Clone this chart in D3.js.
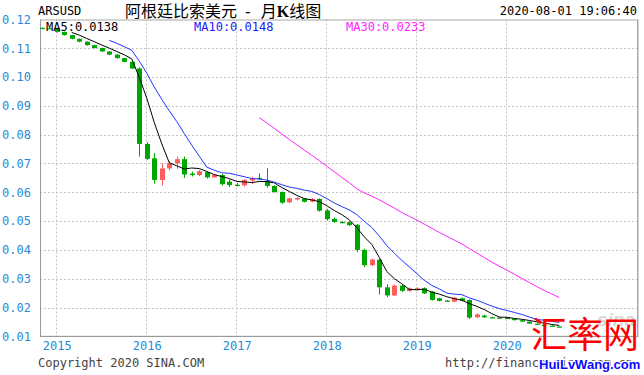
<!DOCTYPE html>
<html><head><meta charset="utf-8">
<script src="https://cdn.jsdelivr.net/npm/d3@7"></script>
<style>body{margin:0;background:#fff}svg{display:block}</style>
</head><body>
<svg id="c" width="644" height="375"></svg>
<script>
// ---- data (ARSUSD monthly K) ----
const months = ["2014-11","2014-12",
 "2015-01","2015-02","2015-03","2015-04","2015-05","2015-06","2015-07","2015-08","2015-09","2015-10","2015-11","2015-12",
 "2016-01","2016-02","2016-03","2016-04","2016-05","2016-06","2016-07","2016-08","2016-09","2016-10","2016-11","2016-12",
 "2017-01","2017-02","2017-03","2017-04","2017-05","2017-06","2017-07","2017-08","2017-09","2017-10","2017-11","2017-12",
 "2018-01","2018-02","2018-03","2018-04","2018-05","2018-06","2018-07","2018-08","2018-09","2018-10","2018-11","2018-12",
 "2019-01","2019-02","2019-03","2019-04","2019-05","2019-06","2019-07","2019-08","2019-09","2019-10","2019-11","2019-12",
 "2020-01","2020-02","2020-03","2020-04","2020-05","2020-06","2020-07","2020-08"];
const openV = [0.1171,0.1170,
 0.1169,0.1157,0.1146,0.1133,0.1123,0.1111,0.1101,0.1089,0.1078,0.1066,0.1053,0.1030,
 0.0768,0.0718,0.0643,0.0683,0.0700,0.0715,0.0665,0.0660,0.0670,0.0652,0.0660,0.0637,
 0.0626,0.0624,0.0641,0.0650,0.0640,0.0622,0.0601,0.0565,0.0575,0.0578,0.0568,0.0577,
 0.0537,0.0508,0.0497,0.0496,0.0487,0.0400,0.0347,0.0366,0.0270,0.0242,0.0276,0.0257,
 0.0260,0.0267,0.0255,0.0232,0.0224,0.0220,0.0232,0.0226,0.0166,0.0172,0.0166,0.0165,
 0.0164,0.0161,0.0156,0.0151,0.0144,0.0140,0.0137,0.0134];
const highV = [0.1172,0.1171,
 0.1170,0.1158,0.1147,0.1134,0.1124,0.1112,0.1102,0.1090,0.1079,0.1067,0.1054,0.1034,
 0.0774,0.0736,0.0701,0.0708,0.0724,0.0724,0.0672,0.0678,0.0672,0.0663,0.0664,0.0645,
 0.0633,0.0646,0.0654,0.0666,0.0683,0.0624,0.0603,0.0582,0.0584,0.0580,0.0580,0.0579,
 0.0542,0.0512,0.0500,0.0499,0.0490,0.0404,0.0370,0.0368,0.0280,0.0280,0.0279,0.0270,
 0.0270,0.0270,0.0257,0.0234,0.0226,0.0237,0.0235,0.0228,0.0180,0.0175,0.0168,0.0167,
 0.0166,0.0162,0.0157,0.0152,0.0145,0.0141,0.0138,0.0135];
const lowV = [0.1169,0.1168,
 0.1155,0.1144,0.1131,0.1121,0.1109,0.1099,0.1087,0.1076,0.1064,0.1051,0.1028,0.0724,
 0.0712,0.0630,0.0623,0.0676,0.0682,0.0650,0.0655,0.0656,0.0648,0.0650,0.0624,0.0618,
 0.0620,0.0620,0.0628,0.0642,0.0616,0.0599,0.0560,0.0562,0.0572,0.0565,0.0565,0.0533,
 0.0502,0.0494,0.0492,0.0483,0.0392,0.0340,0.0344,0.0245,0.0236,0.0240,0.0254,0.0255,
 0.0258,0.0247,0.0224,0.0221,0.0220,0.0219,0.0221,0.0160,0.0164,0.0164,0.0163,0.0162,
 0.0160,0.0155,0.0150,0.0143,0.0139,0.0136,0.0133,0.0133];
const closeV = [0.1170,0.1169,
 0.1157,0.1146,0.1133,0.1123,0.1111,0.1101,0.1089,0.1078,0.1066,0.1053,0.1030,0.0768,
 0.0716,0.0643,0.0683,0.0702,0.0715,0.0662,0.0660,0.0673,0.0652,0.0660,0.0628,0.0625,
 0.0624,0.0643,0.0649,0.0648,0.0622,0.0601,0.0564,0.0579,0.0580,0.0567,0.0577,0.0536,
 0.0507,0.0497,0.0496,0.0486,0.0400,0.0347,0.0366,0.0270,0.0242,0.0276,0.0258,0.0267,
 0.0267,0.0249,0.0226,0.0223,0.0222,0.0234,0.0223,0.0165,0.0176,0.0166,0.0164,0.0163,
 0.0161,0.0156,0.0151,0.0144,0.0140,0.0137,0.0134,0.0134];
const yTicks = [0.12,0.11,0.10,0.09,0.08,0.07,0.06,0.05,0.04,0.03,0.02,0.01];
const yearMonths = ["2015-01","2016-01","2017-01","2018-01","2019-01","2020-01"];
const yearLabels = ["2015","2016","2017","2018","2019","2020"];
const maPeriods = [5,10,30];
const maLabels = ["MA5:0.0138","MA10:0.0148","MA30:0.0233"];

// ---- drawing ----
const svg = d3.select("#c");
const L = 40, R = 637.5, T = 19.5, B = 336.3;
const x = d3.scalePoint().domain(months).range([41.8, 41.8 + (months.length-1)*7.5]);
const y = d3.scaleLinear().domain([0.01, 0.12]).range([B, T]);
const mono = "'DejaVu Sans Mono', monospace";
const GREEN = "#00a600", RED = "#ff5c5c";

svg.append("defs").append("clipPath").attr("id","plot")
  .append("rect").attr("x",L).attr("y",T).attr("width",R-L).attr("height",B-T);

// grid
const grid = svg.append("g");
grid.selectAll("line.h").data(yTicks.filter(d => d < 0.115 && d > 0.015)).join("line")
  .attr("x1",L).attr("x2",R).attr("y1",d=>Math.round(y(d))+0.5).attr("y2",d=>Math.round(y(d))+0.5)
  .attr("stroke","#c4c4c4").attr("stroke-dasharray","2,2");
grid.selectAll("line.v").data(yearMonths).join("line")
  .attr("x1",d=>Math.round(x(d)-1)+0.5).attr("x2",d=>Math.round(x(d)-1)+0.5).attr("y1",T).attr("y2",B)
  .attr("stroke","#c4c4c4").attr("stroke-dasharray","2,2");

// frame
svg.append("rect").attr("x",L+0.5).attr("y",T+0.5).attr("width",R-L-0.5).attr("height",B-T-0.5)
  .attr("fill","none").attr("stroke","#a8a8a8");
svg.append("line").attr("x1",R+1).attr("x2",R+1).attr("y1",T).attr("y2",B+1).attr("stroke","#d6d6d6");
svg.append("line").attr("x1",L+0.5).attr("x2",L+0.5).attr("y1",T).attr("y2",B+0.5).attr("stroke","#999");
svg.append("line").attr("x1",L).attr("x2",R).attr("y1",Math.round(B)+0.5).attr("y2",Math.round(B)+0.5).attr("stroke","#999");

// axes
const yAxis = svg.append("g").attr("transform",`translate(${L},0)`)
  .call(d3.axisLeft(y).tickValues(yTicks).tickFormat(d3.format(".2f")).tickSize(0).tickPadding(9));
yAxis.select(".domain").remove();
yAxis.selectAll("text").attr("fill","#2b8ad6").style("font-family",mono).style("font-size","12px");

const xAxis = svg.append("g").attr("transform",`translate(0,${B})`)
  .call(d3.axisBottom(x).tickValues(yearMonths).tickFormat((d,i)=>yearLabels[i]).tickSize(0).tickPadding(5));
xAxis.select(".domain").remove();
xAxis.selectAll("text").attr("fill","#2b8ad6").style("font-family",mono).style("font-size","12px");

// faint sina watermark
svg.append("text").attr("x",597).attr("y",326).text("sina")
  .attr("fill","#d8d8d8").style("font-family","'Liberation Sans', sans-serif")
  .style("font-size","19px").style("font-weight","bold").style("font-style","italic");

// candles
const data = months.map((m,i)=>({m, o:openV[i], h:highV[i], l:lowV[i], c:closeV[i]}));
const cg = svg.append("g").attr("clip-path","url(#plot)");
const cw = 5;
cg.selectAll("line.w").data(data).join("line")
  .attr("x1",d=>Math.round(x(d.m))+0.5).attr("x2",d=>Math.round(x(d.m))+0.5)
  .attr("y1",d=>y(d.h)).attr("y2",d=>y(d.l))
  .attr("stroke",d=>d.c>d.o?RED:GREEN);
cg.selectAll("rect.b").data(data).join("rect")
  .attr("x",d=>Math.round(x(d.m))-2)
  .attr("y",d=>y(Math.max(d.o,d.c)))
  .attr("width",cw)
  .attr("height",d=>Math.max(1.2, Math.abs(y(d.o)-y(d.c))))
  .attr("fill",d=>d.c>d.o?RED:GREEN);

// moving averages
const maColors = ["#000000","#2233ff","#ff22ff"];
maPeriods.forEach((n,k)=>{
  const pts = [];
  for (let i=n-1;i<closeV.length;i++) pts.push([months[i], d3.mean(closeV.slice(i-n+1,i+1))]);
  cg.append("path").datum(pts)
    .attr("d", d3.line().x(p=>x(p[0])).y(p=>y(p[1])))
    .attr("fill","none").attr("stroke",maColors[k]).attr("stroke-width",1);
});

// header texts
svg.append("text").attr("x",38).attr("y",15).text("ARSUSD")
  .style("font-family",mono).style("font-size","12px").attr("fill","#000");
const title = svg.append("text").attr("x",125).attr("y",16.5)
  .style("font-family","'Noto Sans CJK SC', sans-serif").style("font-size","16px").attr("fill","#000");
title.append("tspan").text("阿根廷比索美元");
title.append("tspan").attr("dx",8).text("-").style("font-family","'DejaVu Sans', sans-serif");
title.append("tspan").attr("dx",10).text("月");
title.append("tspan").text("K").style("font-weight","bold").style("font-family","'Liberation Serif', serif");
title.append("tspan").text("线图");
svg.append("text").attr("x",637).attr("y",15).attr("text-anchor","end").text("2020-08-01 19:06:40")
  .style("font-family",mono).style("font-size","12px").attr("fill","#000");

const maX = [46,194,346];
maLabels.forEach((t,k)=>{
  svg.append("text").attr("x",maX[k]).attr("y",30.5).text(t)
    .style("font-family",mono).style("font-size","12px").attr("fill",["#000","#1a1aff","#ff22ff"][k]);
});

// footer
svg.append("text").attr("x",38).attr("y",367).text("Copyright 2020 SINA.COM")
  .style("font-family",mono).style("font-size","12px").attr("fill","#444");
svg.append("text").attr("x",445).attr("y",367).text("http://finance.sina.com.cn")
  .style("font-family",mono).style("font-size","12px").attr("fill","#444");

// site watermark
svg.append("text").attr("x",531).attr("y",348).text("汇率网")
  .style("font-family","'Noto Sans CJK SC', sans-serif").style("font-size","36px").attr("fill","#ff0000");
svg.append("text").attr("x",539).attr("y",369).text("HuiLvWang.com")
  .style("font-family","'Liberation Sans', Arial, sans-serif").style("font-size","13px").style("font-weight","bold")
  .attr("fill","#0a0aff").attr("stroke","#fff").attr("stroke-width",2.5).style("paint-order","stroke");
</script>
</body></html>
